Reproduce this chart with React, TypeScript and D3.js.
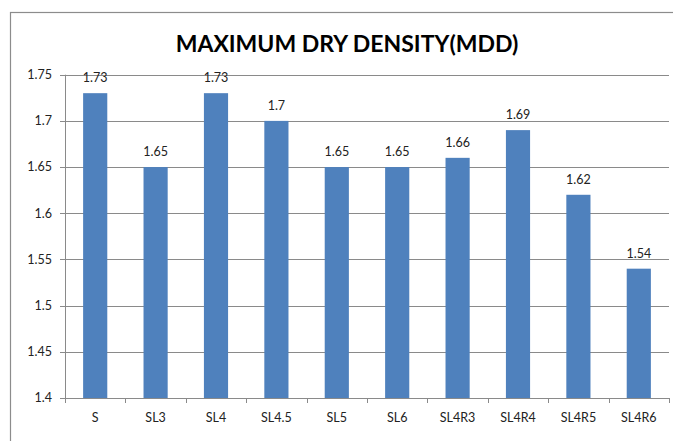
import React from "react";
import * as d3 from "d3";

const categories = ["S", "SL3", "SL4", "SL4.5", "SL5", "SL6", "SL4R3", "SL4R4", "SL4R5", "SL4R6"];
const values = [1.73, 1.65, 1.73, 1.7, 1.65, 1.65, 1.66, 1.69, 1.62, 1.54];
const yTicks = [1.4, 1.45, 1.5, 1.55, 1.6, 1.65, 1.7, 1.75];
const title = "MAXIMUM DRY DENSITY(MDD)";

const W = 673;
const H = 441;
const left = 65;
const right = 669;
const top = 74.7;
const bottom = 398;
const font = "Lato, 'Open Sans', sans-serif";

export default function App() {
  const x = d3.scaleBand<string>().domain(categories).range([left, right]).paddingInner(0.6).paddingOuter(0.3);
  const xb = d3.scaleBand<string>().domain(categories).range([left, right]);
  const y = d3.scaleLinear().domain([1.4, 1.75]).range([bottom, top]);
  return (
    <svg width={W} height={H} style={{ position: "absolute", left: 0, top: 0, background: "#fff" }}>
      <rect x={10.5} y={12.5} width={700} height={460} fill="#fff" stroke="#8c8c8c" strokeWidth={1.2} />
      <text x={347} y={52} textAnchor="middle" fontFamily={font} fontWeight="bold" fontSize={23} fill="#000">
        {title}
      </text>
      {yTicks.map((t) => (
        <g key={t}>
          <line x1={left - 5} x2={right} y1={Math.round(y(t)) + 0.5} y2={Math.round(y(t)) + 0.5} stroke="#8a8a8a" strokeWidth={1} />
          <text x={52} y={y(t)} dy="0.35em" textAnchor="end" fontFamily={font} fontSize={12.5} fill="#222">
            {String(t)}
          </text>
        </g>
      ))}
      <line x1={left + 0.5} x2={left + 0.5} y1={top} y2={bottom} stroke="#8a8a8a" />
      {categories.map((c) => (
        <line key={"t" + c} x1={Math.round(xb(c)!) + 0.5} x2={Math.round(xb(c)!) + 0.5} y1={bottom} y2={bottom + 5} stroke="#8a8a8a" />
      ))}
      <line x1={right + 0.5} x2={right + 0.5} y1={bottom} y2={bottom + 5} stroke="#8a8a8a" />
      {categories.map((c, i) => (
        <g key={c}>
          <rect x={x(c)} y={y(values[i])} width={x.bandwidth()} height={bottom - y(values[i])} fill="#4f81bd" />
          <text x={x(c)! + x.bandwidth() / 2} y={y(values[i]) - 11} textAnchor="middle" fontFamily={font} fontSize={12.5} fill="#222">
            {String(values[i])}
          </text>
          <text x={xb(c)! + xb.bandwidth() / 2} y={418} dy="0.35em" textAnchor="middle" fontFamily={font} fontSize={12.5} fill="#222">
            {c}
          </text>
        </g>
      ))}
    </svg>
  );
}
